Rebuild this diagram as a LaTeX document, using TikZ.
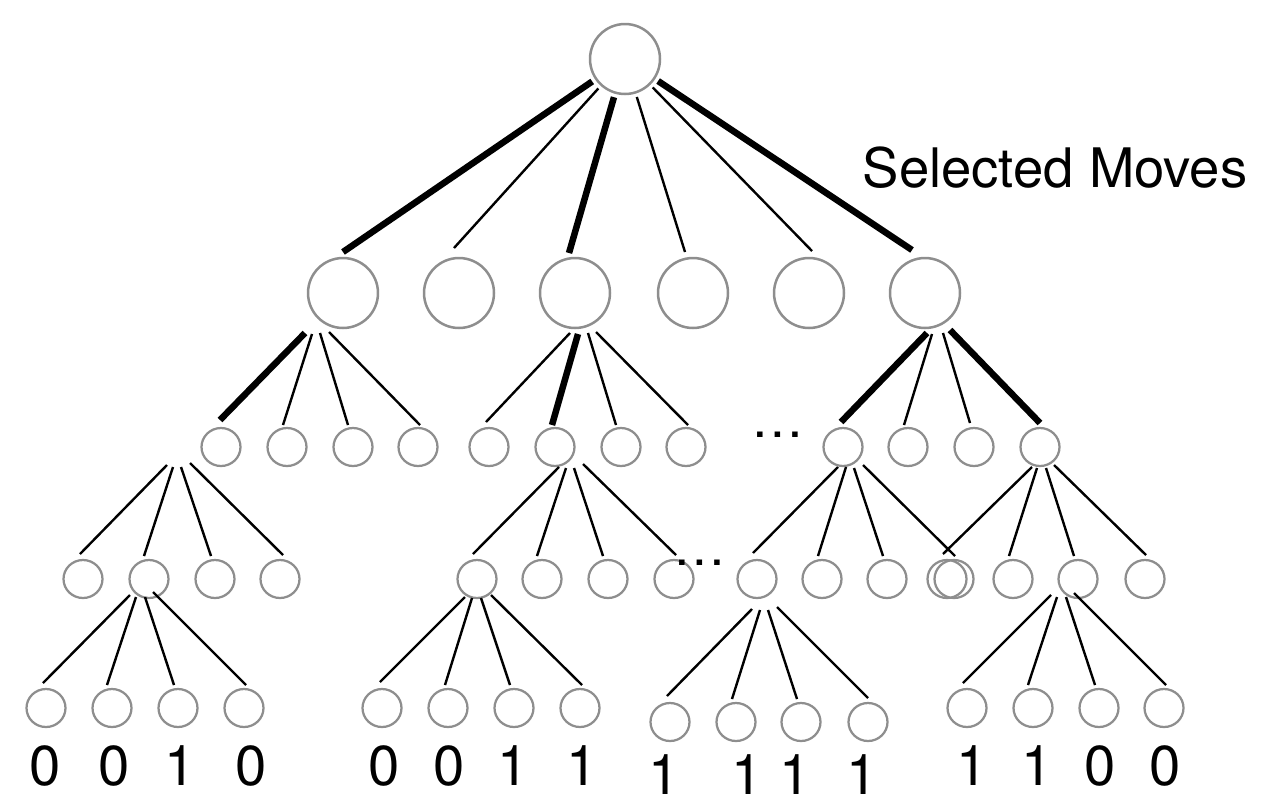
\documentclass[tikz,border=0pt]{standalone}
\usepackage{fontspec}
\setmainfont{TeX Gyre Heros}
\usetikzlibrary{calc,shapes.geometric}
\definecolor{ringgray}{HTML}{8E8E8E}
\tikzset{
  big/.style={circle, draw=ringgray, line width=0.05cm, minimum size=1.4cm, inner sep=0pt},
  small/.style={ellipse, draw=ringgray, line width=0.045cm, minimum width=0.78cm, minimum height=0.76cm, inner sep=0pt},
  thin edge/.style={line width=0.048cm},
  bold edge/.style={line width=0.13cm},
  digit/.style={font=\fontsize{32}{38}\selectfont, inner sep=0pt},
  ellip/.style={font=\fontsize{30}{36}\selectfont, inner sep=0pt},
  caption/.style={font=\fontsize{31}{37}\selectfont, inner sep=0pt},
}
% connector from a point offset from one node to a point offset from another
\newcommand\conn[5]{\draw[#1] ($(#2)+(#3)$) -- ($(#4)+(#5)$);}

\begin{document}
\begin{tikzpicture}[x=0.02cm,y=-0.02cm]
\useasboundingbox (0,0) rectangle (1274,802);

% root and first level
\node[big] (R) at (625,59) {};
\foreach \n/\x in {1/343,2/459,3/575,4/693,5/809,6/925}
  \node[big] (P\n) at (\x,293) {};

% second level
\foreach \n/\x in {1/221,2/287,3/353,4/418,5/489,6/555,7/621,8/686,9/843,10/908,11/974,12/1040}
  \node[small] (Q\n) at (\x,447) {};

% third level
\foreach \n/\x in {1/83,2/149,3/215,4/280,5/477,6/542,7/608,8/674,9/757,10/822,11/887,12/954,13/947,14/1013,15/1078,16/1145}
  \node[small] (S\n) at (\x,579) {};

% leaves
\foreach \n/\x in {1/46,2/112,3/178,4/244,5/382,6/448,7/514,8/580,13/967,14/1033,15/1099,16/1164}
  \node[small] (T\n) at (\x,708) {};
\foreach \n/\x in {9/670,10/736,11/801,12/868}
  \node[small] (T\n) at (\x,722) {};

% root moves
\draw[bold edge, shorten <=2pt] (R) -- ($(P1)+(0,-41)$);
\draw[thin edge, shorten <=2pt] (R) -- ($(P2)+(-5,-45)$);
\draw[bold edge, shorten <=2pt] (R) -- ($(P3)+(-6,-40)$);
\draw[thin edge, shorten <=2pt] (R) -- ($(P4)+(-8,-41)$);
\draw[thin edge, shorten <=2pt] (R) -- ($(P5)+(3,-42)$);
\draw[bold edge, shorten <=2pt] (R) -- ($(P6)+(-13,-43)$);

% first level to second level
\conn{bold edge}{P1}{-38,40}{Q1}{-1,-27}
\conn{thin edge}{P1}{-31,41}{Q2}{-4,-22}
\conn{thin edge}{P1}{-23,40}{Q3}{-5,-22}
\conn{thin edge}{P1}{-14,39}{Q4}{2,-22}

\conn{thin edge}{P3}{-5,40}{Q5}{-3,-25}
\conn{bold edge}{P3}{3,41}{Q6}{-3,-22}
\conn{thin edge}{P3}{13,40}{Q7}{-5,-22}
\conn{thin edge}{P3}{21,39}{Q8}{2,-22}

\conn{bold edge}{P6}{2,40}{Q9}{-2,-25}
\conn{thin edge}{P6}{7,41}{Q10}{-4,-22}
\conn{thin edge}{P6}{18,40}{Q11}{-4,-24}
\conn{bold edge}{P6}{25,37}{Q12}{0,-24}

% second level to third level
\coordinate (F) at (178,465);
\conn{thin edge}{F}{-11,0}{S1}{-3,-25}
\conn{thin edge}{F}{-5,2}{S2}{-5,-23}
\conn{thin edge}{F}{3,2}{S3}{-4,-23}
\conn{thin edge}{F}{12,-2}{S4}{3,-24}

\conn{thin edge}{Q6}{4,20}{S5}{-4,-25}
\conn{thin edge}{Q6}{11,21}{S6}{-5,-23}
\conn{thin edge}{Q6}{19,21}{S7}{-5,-23}
\conn{thin edge}{Q6}{28,17}{S8}{2,-24}

\conn{thin edge}{Q9}{-5,20}{S9}{-4,-26}
\conn{thin edge}{Q9}{3,20}{S10}{-4,-23}
\conn{thin edge}{Q9}{11,21}{S11}{-4,-23}
\conn{thin edge}{Q9}{20,18}{S12}{1,-23}

\conn{thin edge}{Q12}{-8,20}{S13}{-4,-25}
\conn{thin edge}{Q12}{-3,21}{S14}{-4,-23}
\conn{thin edge}{Q12}{6,21}{S15}{-4,-23}
\conn{thin edge}{Q12}{14,18}{S16}{1,-24}

% third level to leaves
\conn{thin edge}{S2}{-19,16}{T1}{-3,-25}
\conn{thin edge}{S2}{-13,18}{T2}{-5,-23}
\conn{thin edge}{S2}{-4,18}{T3}{-4,-23}
\conn{thin edge}{S2}{4,13}{T4}{2,-23}

\conn{thin edge}{S5}{-12,18}{T5}{-2,-26}
\conn{thin edge}{S5}{-5,19}{T6}{-3,-23}
\conn{thin edge}{S5}{4,19}{T7}{-4,-23}
\conn{thin edge}{S5}{14,16}{T8}{2,-23}

\conn{thin edge}{S9}{-5,30}{T9}{-3,-26}
\conn{thin edge}{S9}{3,31}{T10}{-4,-23}
\conn{thin edge}{S9}{11,31}{T11}{-4,-23}
\conn{thin edge}{S9}{20,28}{T12}{0,-24}

\conn{thin edge}{S15}{-27,16}{T13}{-4,-25}
\conn{thin edge}{S15}{-21,18}{T14}{-5,-23}
\conn{thin edge}{S15}{-12,18}{T15}{-4,-23}
\conn{thin edge}{S15}{-4,14}{T16}{2,-23}

% ellipses marking omitted nodes
\node[ellip] (gapA) at (778,435) {…};
\node[ellip] (gapB) at (700,563) {…};

% outcomes under the leaves
\foreach \n/\x/\v in {1/45/0,2/114/0,3/180/1,4/251/0,5/384/0,6/449/0,7/513/1,8/582/1,13/972/1,14/1037/1,15/1100/0,16/1165/0}
  \node[digit] (D\n) at (\x,766) {\v};
\foreach \n/\x/\v in {9/664/1,10/747/1,11/795/1,12/862/1}
  \node[digit] (D\n) at (\x,775) {\v};

% caption
\node[caption] (cap) at (1055,168) {Selected Moves};
\end{tikzpicture}
\end{document}
